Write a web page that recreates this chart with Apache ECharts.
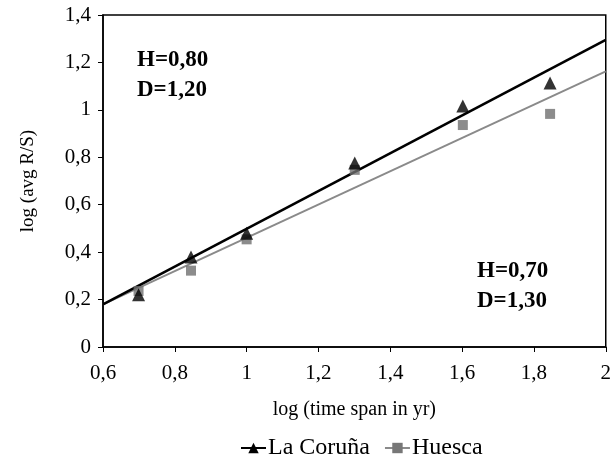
<!DOCTYPE html>
<html><head><meta charset="utf-8">
<script src="https://cdn.jsdelivr.net/npm/echarts@6/dist/echarts.min.js"></script>
<style>html,body{margin:0;padding:0;background:#fff}#c{width:614px;height:457px}</style>
</head><body><div id="c"></div>
<script>
var xLog = [0.699, 0.845, 1.0, 1.301, 1.602, 1.845];
var coruna = [0.22, 0.38, 0.48, 0.776, 1.016, 1.113];
var huesca = [0.236, 0.322, 0.454, 0.747, 0.936, 0.983];
var corunaFit = [[0.6, 0.18], [2.0, 1.295]];
var huescaFit = [[0.6, 0.18], [2.0, 1.162]];
var seriesNames = ['La Coruña', 'Huesca'];
var annCoruna = ['H=0,80', 'D=1,20'];
var annHuesca = ['H=0,70', 'D=1,30'];

function pairs(xs, ys){ return xs.map(function(x,i){ return [x, ys[i]]; }); }
function comma(v){ return String(+v.toFixed(2)).replace('.', ','); }
var F = 'Liberation Serif';
var chart = echarts.init(document.getElementById('c'));
chart.setOption({
  animation: false,
  textStyle: {fontFamily: F, color: '#000'},
  grid: {left: 103, right: 3, top: 15, bottom: 110, show: true, borderColor: '#000', borderWidth: 1.5},
  xAxis: {
    type: 'value', min: 0.6, max: 2, interval: 0.2,
    name: 'log (time span in yr)', nameLocation: 'middle', nameGap: 53,
    nameTextStyle: {fontFamily: F, fontSize: 20, color: '#000'},
    axisLine: {lineStyle: {color: '#000', width: 1.5}},
    axisTick: {show: true, inside: false, length: 5, lineStyle: {color: '#000'}},
    axisLabel: {fontFamily: F, fontSize: 21, color: '#000', margin: 16, formatter: comma},
    splitLine: {show: false}
  },
  yAxis: {
    type: 'value', min: 0, max: 1.4, interval: 0.2,
    name: 'log (avg R/S)', nameLocation: 'middle', nameGap: 65,
    nameTextStyle: {fontFamily: F, fontSize: 19, color: '#000'},
    axisLine: {show: true, lineStyle: {color: '#000', width: 1.5}},
    axisTick: {show: true, inside: false, length: 5, lineStyle: {color: '#000'}},
    axisLabel: {fontFamily: F, fontSize: 21, color: '#000', margin: 12, formatter: comma},
    splitLine: {show: false}
  },
  legend: {
    bottom: -8, left: 235, itemWidth: 25, itemHeight: 13, itemGap: 14,
    data: seriesNames,
    textStyle: {fontFamily: F, fontSize: 24, color: '#000', padding: [0,0,0,-3]}
  },
  series: [
    {name: seriesNames[0], type: 'line', data: corunaFit, symbol: 'triangle', symbolSize: 13, showSymbol: false,
     lineStyle: {color: '#000', width: 2.6}, itemStyle: {color: '#000'}, z: 3},
    {name: seriesNames[1], type: 'line', data: huescaFit, symbol: 'rect', symbolSize: 10, showSymbol: false,
     lineStyle: {color: '#8a8a8a', width: 2}, itemStyle: {color: '#777'}, z: 2},
    {name: seriesNames[0], type: 'scatter', data: pairs(xLog, coruna), symbol: 'triangle', symbolSize: 13,
     itemStyle: {color: '#000'}, z: 5},
    {name: seriesNames[1], type: 'scatter', data: pairs(xLog, huesca), symbol: 'rect', symbolSize: 10,
     itemStyle: {color: '#6f6f6f'}, z: 4}
  ],
  graphic: [
    {type: 'text', left: 137, top: 45, style: {text: annCoruna.join('\n'), font: 'bold 23px "Liberation Serif"', lineHeight: 30, fill: '#000'}},
    {type: 'text', left: 477, top: 256, style: {text: annHuesca.join('\n'), font: 'bold 23px "Liberation Serif"', lineHeight: 30, fill: '#000'}}
  ]
});
</script>
</body></html>
